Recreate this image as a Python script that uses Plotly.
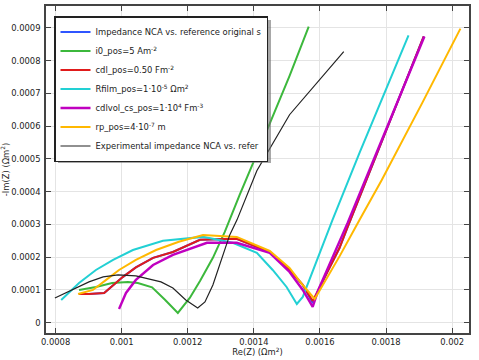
import plotly.graph_objects as go

# ---- data (Re(Z), -Im(Z)) in Ohm m^2 ----
orig_re = [0.000871, 0.000901, 0.000947, 0.000974, 0.001004, 0.001043, 0.001095, 0.001155, 0.001237,
           0.001348, 0.001448, 0.001508, 0.001548, 0.001578, 0.00162, 0.001659, 0.001683, 0.001914]
orig_im = [0.0000878, 0.0000878, 0.0000908, 0.0001153, 0.00014, 0.000169, 0.000198, 0.000216, 0.000253,
           0.000256, 0.000216, 0.000161, 0.0001153, 0.000060, 0.000150, 0.000228, 0.00029, 0.000874]

i0_re = [0.000871, 0.000922, 0.000971, 0.001019, 0.001049, 0.001092, 0.001131, 0.00117, 0.001206,
         0.001237, 0.001276, 0.001312, 0.001357, 0.001403, 0.001448, 0.001508, 0.001566]
i0_im = [0.0001, 0.000109, 0.000121, 0.000124, 0.000121, 0.000108, 0.00007, 0.0000297, 0.0000755,
         0.0001275, 0.000198, 0.000277, 0.00039, 0.000498, 0.000608, 0.000754, 0.000904]

cdl_re = [0.000871, 0.000901, 0.000947, 0.000974, 0.001004, 0.001043, 0.001095, 0.001155, 0.001237,
          0.001348, 0.001448, 0.001508, 0.001548, 0.001578, 0.00162, 0.001659, 0.001683, 0.001914]
cdl_im = [0.0000878, 0.0000878, 0.0000908, 0.0001153, 0.00014, 0.000169, 0.000198, 0.000216, 0.000253,
          0.000256, 0.000216, 0.000161, 0.0001153, 0.0000664, 0.000152, 0.000228, 0.00029, 0.000874]

rfilm_re = [0.000817, 0.000871, 0.000922, 0.000974, 0.001034, 0.001125, 0.001246, 0.001336, 0.001409,
            0.001457, 0.001499, 0.00153, 0.001548, 0.001638, 0.00172, 0.001868]
rfilm_im = [0.0000694, 0.0001214, 0.000161, 0.000192, 0.000222, 0.00025, 0.000262, 0.000244, 0.000213,
            0.000161, 0.000109, 0.0000572, 0.0000786, 0.000314, 0.000519, 0.000877]

cdlvol_re = [0.000992, 0.001013, 0.001043, 0.001095, 0.001155, 0.001215, 0.001258, 0.001348, 0.001448,
             0.001508, 0.001548, 0.001578, 0.001595, 0.001635, 0.001684, 0.001916]
cdlvol_im = [0.0000419, 0.0000908, 0.0001306, 0.000176, 0.000207, 0.000228, 0.000244, 0.000244, 0.000213,
             0.000155, 0.0001, 0.000048, 0.0001, 0.000192, 0.000305, 0.000874]

rp_re = [0.000868, 0.000913, 0.000953, 0.000992, 0.001043, 0.001104, 0.001173, 0.001246, 0.001348,
         0.001448, 0.001508, 0.001548, 0.001584, 0.00166, 0.00172, 0.001787, 0.00191, 0.002025]
rp_im = [0.0000878, 0.0001, 0.0001306, 0.000161, 0.000192, 0.000222, 0.000247, 0.000268, 0.000262,
         0.000219, 0.000167, 0.000115, 0.0000725, 0.000204, 0.000314, 0.000436, 0.000672, 0.000898]

exp_re = [0.000798, 0.000847, 0.000901, 0.000944, 0.000989, 0.001043, 0.001082, 0.001119, 0.001155,
          0.001194, 0.00123, 0.001252, 0.001276, 0.001303, 0.001327, 0.001349, 0.001409, 0.001508, 0.001672]
exp_im = [0.0000755, 0.0001, 0.0001245, 0.00014, 0.000146, 0.000143, 0.000134, 0.0001245, 0.000106,
          0.0000694, 0.000045, 0.0000633, 0.0001153, 0.000198, 0.000268, 0.000314, 0.000464, 0.000635, 0.000828]

names = [
    "Impedance NCA vs. reference original s",
    "i0_pos=5 Am<sup>-2</sup>",
    "cdl_pos=0.50 Fm<sup>-2</sup>",
    "Rfilm_pos=1·10<sup>-5</sup> Ωm<sup>2</sup>",
    "cdlvol_cs_pos=1·10<sup>4</sup> Fm<sup>-3</sup>",
    "rp_pos=4·10<sup>-7</sup> m",
    "Experimental impedance NCA vs. refer",
]
colors = ["#2f55ff", "#3cb83c", "#e01b1b", "#22d0d4", "#c000c0", "#ffb800", "#222222"]
widths = [2, 2, 2, 2, 2.4, 2, 1.2]
series = [(orig_re, orig_im), (i0_re, i0_im), (cdl_re, cdl_im), (rfilm_re, rfilm_im),
          (cdlvol_re, cdlvol_im), (rp_re, rp_im), (exp_re, exp_im)]

fig = go.Figure()
for (xs, ys), n, c, w in zip(series, names, colors, widths):
    fig.add_trace(go.Scatter(x=xs, y=ys, mode="lines", name=n,
                             line=dict(color=c, width=w)))

FONT = "DejaVu Sans"
axis_common = dict(
    showline=True, linecolor="#444", linewidth=1.6, mirror="ticks",
    ticks="inside", ticklen=5, tickcolor="#444", tickwidth=1,
    showgrid=True, gridcolor="#e4e4e4", gridwidth=1,
    zeroline=False, tickformat=".4~f", automargin=False,
    tickfont=dict(family=FONT, size=8.4, color="#222"),
)

# legend box & shadow (paper coords: plot area x 46..469, y 6..333 px)
L, T, R, B = 54, 16, 268, 160
def px2paper_x(p):
    return (p - 46) / 423.0
def px2paper_y(p):
    return (333 - p) / 327.0

fig.add_shape(type="rect", xref="paper", yref="paper", layer="above",
              x0=px2paper_x(L + 4), x1=px2paper_x(R + 3),
              y0=px2paper_y(B + 3), y1=px2paper_y(T + 4),
              fillcolor="rgba(110,110,110,0.6)", line=dict(width=0))

fig.update_layout(
    width=479, height=360,
    margin=dict(l=46, r=10, t=6, b=27),
    paper_bgcolor="white", plot_bgcolor="white",
    font=dict(family=FONT, size=8.4, color="#222"),
    xaxis=dict(range=[0.000771, 0.002051], dtick=0.0002, tick0=0.0008,
               title=dict(text="Re(Z) (Ωm<sup>2</sup>)", standoff=2,
                          font=dict(family=FONT, size=8.4, color="#222")),
               **axis_common),
    yaxis=dict(range=[-0.0000315, 0.000967], dtick=0.0001, tick0=0,
               ticklabelstandoff=2,
               title=dict(text="-Im(Z) (Ωm<sup>2</sup>)", standoff=2,
                          font=dict(family=FONT, size=8.4, color="#222")),
               **axis_common),
    legend=dict(x=px2paper_x(L), y=px2paper_y(T), xanchor="left", yanchor="top",
                bgcolor="white", bordercolor="#222", borderwidth=1.5,
                font=dict(family=FONT, size=8.4, color="#222")),
    showlegend=True,
)

fig.write_html("out.html", config={"displayModeBar": False},
               post_script="document.body.style.margin='0';document.body.style.padding='0';")
